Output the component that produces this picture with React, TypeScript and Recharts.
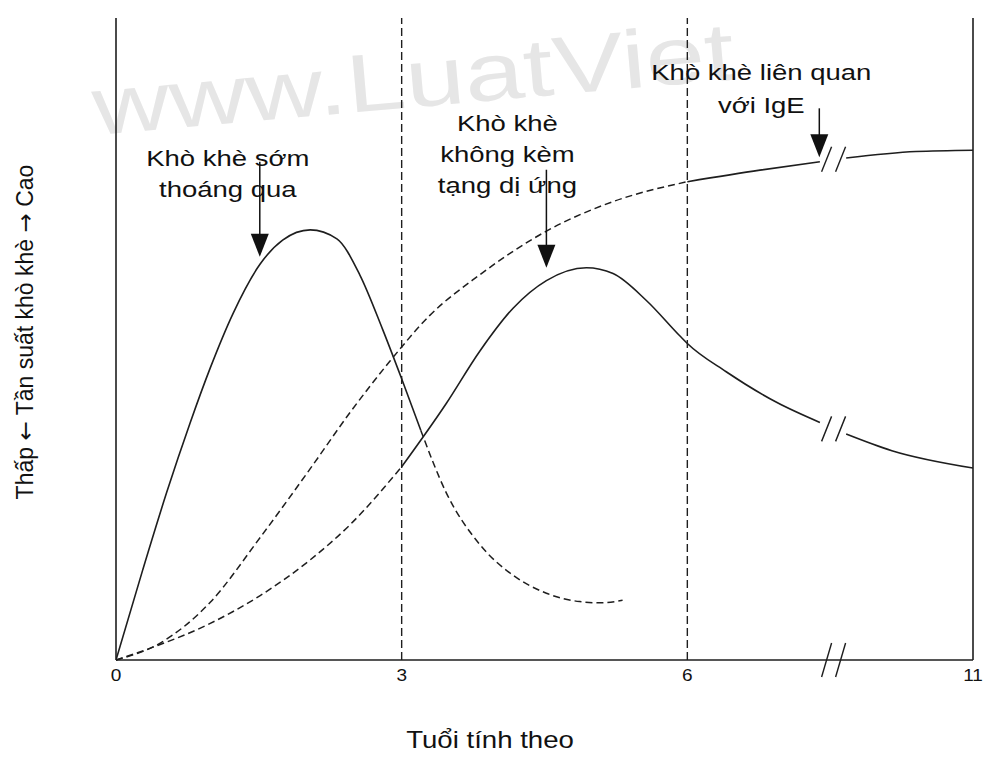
import { LineChart, Line, XAxis, YAxis, ReferenceLine, ReferenceDot } from 'recharts'

const FONT = '"Liberation Sans", Arial, Helvetica, sans-serif'
const INK = '#1e1e1e'

// ages in years; values are relative wheeze prevalence (0 = low, 100 = top of frame)
const earlyAge = [0, 0.28, 0.53, 0.78, 0.99, 1.23, 1.51, 1.75, 2.04, 2.32, 2.56, 2.8, 3.0, 3.2]
const earlyVal = [0, 14.0, 26.0, 37.0, 45.5, 54.0, 61.6, 65.4, 67.0, 65.6, 60.0, 51.5, 43.8, 35.8]
const earlyTailAge = [3.2, 3.47, 3.82, 4.17, 4.52, 4.87, 5.1, 5.32]
const earlyTailVal = [35.8, 26.0, 18.0, 13.2, 10.4, 9.1, 8.9, 9.3]

const igeAge = [0, 0.46, 0.99, 1.51, 2.04, 2.46, 2.88, 3.29, 3.82, 4.52, 5.22, 6.0]
const igeVal = [0, 2.6, 9.0, 19.0, 29.8, 38.6, 46.6, 53.6, 60.0, 66.8, 71.4, 74.5]
const igeLateAge = [6.0, 7.27, 8.32, 8.56, 8.78, 10.0, 11]
const igeLateVal = [74.5, 76.3, 77.6, null, 78.2, 79.2, 79.4]

const nonAtopicAge = [0, 0.39, 0.99, 1.51, 2.04, 2.46, 3.0]
const nonAtopicVal = [0, 2.0, 5.7, 10.0, 15.6, 21.1, 30.1]
const nonAtopicLateAge = [3.0, 3.47, 3.82, 4.17, 4.52, 4.94, 5.22, 5.57, 5.92, 6.0, 6.68, 7.57, 8.32, 8.56, 8.78, 9.58, 11]
const nonAtopicLateVal = [30.1, 40.0, 48.1, 54.8, 59.1, 61.1, 60.2, 56.0, 50.5, 49.3, 44.9, 40.1, 37.0, null, 35.2, 32.6, 29.9]

const tickAges = [0, 3, 6, 11]
const dividerAges = [3, 6]
const breakAge = 8.56
const breakVals = [78, 36, 0]

const noteLines = [
  ['Khò khè sớm', 'thoáng qua'],
  ['Khò khè', 'không kèm', 'tạng dị ứng'],
  ['Khò khè liên quan', 'với IgE'],
]
const noteTipAge = [1.51, 4.52, 8.31]
const noteTipVal = [62.8, 61.1, 78.3]
// layout of each note relative to its arrow tip
const noteLayout = [
  { len: 95, dx: -32, dy: -99, gap: 31 },
  { len: 98, dx: -39, dy: -145, gap: 31 },
  { len: 49, dx: -58, dy: -85, gap: 33 },
]

// x axis is broken between 6 and 11: the last 5 years take the room of 3
const toPos = (age: number) => (age <= 6 ? age : 6 + ((age - 6) * 3) / 5)
const series = (ages: number[], vals: (number | null)[]) =>
  ages.map((a, i) => ({ x: toPos(a), y: vals[i] }))

const early = series(earlyAge, earlyVal)
const earlyTail = series(earlyTailAge, earlyTailVal)
const ige = series(igeAge, igeVal)
const igeLate = series(igeLateAge, igeLateVal)
const nonAtopic = series(nonAtopicAge, nonAtopicVal)
const nonAtopicLate = series(nonAtopicLateAge, nonAtopicLateVal)

function Wide({ x, y, size, sx = 1.25, children }: any) {
  return (
    <text
      transform={`translate(${x},${y}) scale(${sx},1)`}
      textAnchor="middle"
      dominantBaseline="central"
      fontSize={size}
      fontFamily={FONT}
      fill="#111"
    >
      {children}
    </text>
  )
}

function AgeTick({ x, y, payload }: any) {
  const i = tickAges.findIndex((a) => Math.abs(toPos(a) - payload.value) < 1e-6)
  return (
    <Wide x={x} y={y + 7} size={17} sx={1.12}>
      {tickAges[i]}
    </Wide>
  )
}

function Note({ cx, cy, idx }: any) {
  const l = noteLayout[idx]
  return (
    <g>
      <line x1={cx} y1={cy - l.len} x2={cx} y2={cy - 20} stroke="#111" strokeWidth={1.5} />
      <path d={`M${cx - 9},${cy - 23} L${cx + 9},${cy - 23} L${cx},${cy} Z`} fill="#111" />
      {noteLines[idx].map((t, k) => (
        <Wide key={k} x={cx + l.dx} y={cy + l.dy + k * l.gap} size={22}>
          {t}
        </Wide>
      ))}
    </g>
  )
}

function BreakMark({ cx, cy, h }: any) {
  return (
    <g stroke={INK} strokeWidth={1.4}>
      {[-7, 7].map((o) => (
        <line key={o} x1={cx + o - 5} y1={cy + h / 2} x2={cx + o + 5} y2={cy - h / 2} />
      ))}
    </g>
  )
}

export default function App() {
  const arrowFont = '"DejaVu Sans", sans-serif'
  return (
    <div style={{ position: 'absolute', left: 0, top: 0, width: 985, height: 757, background: '#fff' }}>
      <svg width={985} height={757} style={{ position: 'absolute', left: 0, top: 0 }}>
        <text
          transform="translate(95,135) rotate(-5) scale(1.3,1)"
          fontSize={82}
          fontFamily={FONT}
          fill="#e6e6e6"
        >
          www.LuatViet
        </text>
        <text
          transform="translate(25,332) rotate(-90)"
          textAnchor="middle"
          dominantBaseline="central"
          fontSize={23}
          fontFamily={FONT}
          fill="#111"
        >
          Thấp <tspan fontFamily={arrowFont}>←</tspan> Tần suất khò khè{' '}
          <tspan fontFamily={arrowFont}>→</tspan> Cao
        </text>
        <Wide x={490} y={740} size={23} sx={1.2}>
          Tuổi tính theo
        </Wide>
      </svg>
      <div style={{ position: 'absolute', left: 0, top: 0 }}>
        <LineChart width={985} height={757} margin={{ top: 18, right: 12, bottom: 67, left: 116 }}>
          <XAxis
            type="number"
            dataKey="x"
            domain={[0, 9]}
            ticks={tickAges.map(toPos)}
            tick={<AgeTick />}
            tickLine={false}
            axisLine={{ stroke: INK, strokeWidth: 1.6 }}
            allowDataOverflow
            height={30}
          />
          <YAxis type="number" dataKey="y" domain={[0, 100]} hide />
          <ReferenceLine x={0} stroke={INK} strokeWidth={1.6} />
          <ReferenceLine x={9} stroke={INK} strokeWidth={1.6} />
          {dividerAges.map((a) => (
            <ReferenceLine key={a} x={toPos(a)} stroke={INK} strokeWidth={1.4} strokeDasharray="8 4" />
          ))}
          <Line data={early} dataKey="y" type="monotone" stroke={INK} strokeWidth={1.6} dot={false} isAnimationActive={false} />
          <Line data={earlyTail} dataKey="y" type="monotone" stroke={INK} strokeWidth={1.5} strokeDasharray="7 4" dot={false} isAnimationActive={false} />
          <Line data={ige} dataKey="y" type="monotone" stroke={INK} strokeWidth={1.5} strokeDasharray="7 4" dot={false} isAnimationActive={false} />
          <Line data={igeLate} dataKey="y" type="monotone" stroke={INK} strokeWidth={1.6} dot={false} isAnimationActive={false} />
          <Line data={nonAtopic} dataKey="y" type="monotone" stroke={INK} strokeWidth={1.5} strokeDasharray="7 4" dot={false} isAnimationActive={false} />
          <Line data={nonAtopicLate} dataKey="y" type="monotone" stroke={INK} strokeWidth={1.6} dot={false} isAnimationActive={false} />
          {breakVals.map((v, i) => (
            <ReferenceDot
              key={i}
              x={toPos(breakAge)}
              y={v}
              r={0}
              ifOverflow="visible"
              shape={(p: any) => <BreakMark cx={p.cx} cy={p.cy} h={i === 2 ? 34 : 25} />}
            />
          ))}
          {noteLines.map((_, i) => (
            <ReferenceDot
              key={'n' + i}
              x={toPos(noteTipAge[i])}
              y={noteTipVal[i]}
              r={0}
              ifOverflow="visible"
              shape={(p: any) => <Note cx={p.cx} cy={p.cy} idx={i} />}
            />
          ))}
        </LineChart>
      </div>
    </div>
  )
}
